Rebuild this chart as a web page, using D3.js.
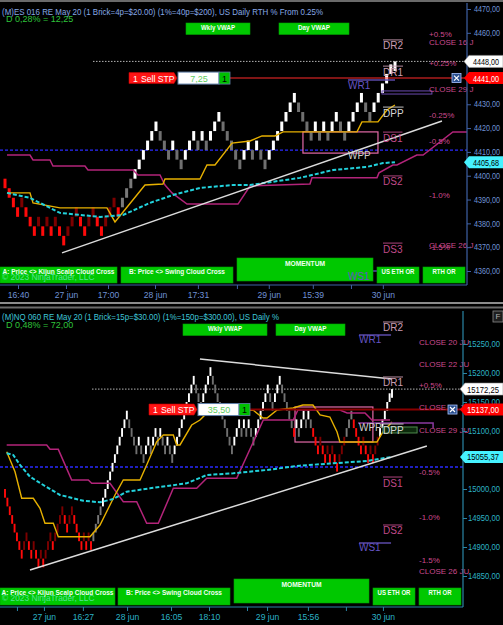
<!DOCTYPE html>
<html>
<head>
<meta charset="utf-8">
<script src="https://cdn.jsdelivr.net/npm/d3@7/dist/d3.min.js"></script>
<style>
html,body{margin:0;padding:0;background:#000;}
svg{display:block;}
text{font-family:'Liberation Sans',Arial,Helvetica,sans-serif;}
</style>
</head>
<body>
<svg id="chart" width="503" height="625"></svg>
<script>
// ===================== DATA =====================
// ---- Top panel: (M)ES ----
const esTitle = "(M)ES 016 RE May 20 (1 Brick=4p=$20.00) (1%=40p=$200), US Daily RTH % From 0.25%";
const esSub = "D 0,28% = 12,25";
const esBrickSize = 4;
const esCloses = [
 4394.75, 4390.75, 4386.75, 4382.75,
 4390.75, 4382.75, 4378.75, 4374.75,
 4382.75, 4374.75, 4382.75, 4374.75,
 4382.75, 4374.75, 4370.75,
 4378.75, 4382.75, 4386.75,
 4378.75, 4374.75,
 4382.75, 4386.75,
 4378.75, 4374.75,
 4382.75, 4386.75, 4390.75,
 4382.75,
 4390.75, 4394.75, 4398.75, 4402.75, 4406.75, 4410.75, 4414.75, 4418.75, 4422.75,
 4414.75, 4410.75, 4406.75,
 4414.75,
 4406.75, 4402.75,
 4410.75, 4414.75, 4418.75,
 4410.75,
 4418.75,
 4410.75,
 4418.75, 4422.75, 4426.75,
 4418.75, 4414.75, 4410.75, 4406.75, 4402.75,
 4410.75, 4414.75,
 4406.75,
 4414.75,
 4406.75, 4402.75,
 4410.75, 4414.75, 4418.75, 4422.75, 4426.75, 4430.75, 4434.75,
 4426.75, 4422.75, 4418.75, 4414.75,
 4422.75,
 4414.75,
 4422.75,
 4414.75,
 4422.75, 4426.75,
 4418.75, 4414.75,
 4422.75, 4426.75, 4430.75, 4434.75,
 4426.75, 4422.75,
 4430.75, 4434.75, 4438.75, 4442.75, 4446.75, 4448
];
const esRegimes = [[0, "down"], [28, "neutral"], [31, "up"]];
const esPriceTicks = [4360, 4370, 4380, 4390, 4400, 4410, 4420, 4430, 4440, 4450, 4460, 4470];
const esTimeTickCols = [3.1, 14.54, 24.56, 35.77, 46.0, 55.3, 62.9, 73.4, 82.5, 90.1];
const esTimeTickLabels = ["16:40", "27 jun", "17:00", "28 jun", "17:31", "", "29 jun", "15:39", "", "30 jun"];
const esMagenta = [[0.48,4408.7],[5.96,4408.7],[6.68,4406.6],[10.73,4406.6],[11.44,4404.1],[19.07,4404.1],[19.79,4402.4],[30.52,4402.4],[31.71,4400.3],[36.96,4400.3],[38.15,4396.1],[39.82,4392.8],[43.4,4388.1],[55.56,4388.1],[58.42,4395.7],[72.72,4396.5],[73.2,4399.1],[88.7,4399.1],[89.18,4401.2],[92.5,4404.5],[93.47,4404.5],[98.2,4408.7],[99.7,4408.7],[106.8,4418.4],[110.2,4418.4]];
const esYellow = [[0.48,4392.8],[5.96,4392.8],[6.68,4388.6],[13.11,4386.5],[24.32,4386.5],[26.23,4380.6],[33.38,4396.1],[37.67,4396.5],[38.15,4398.6],[46.5,4398.6],[48.16,4404.5],[50.07,4404.5],[54.13,4413.7],[58.42,4414.6],[61.28,4416.7],[64.38,4416.7],[66.29,4418.4],[83.93,4418.4],[85.12,4422.6],[88.94,4422.6],[91.08,4427.6],[92.99,4429.7]];
const esCyan = [[0.48,4392.8],[5.96,4390.7],[13.11,4384.4],[22.65,4382.7],[28.14,4383.5],[34.57,4388.6],[40.06,4391.9],[46.5,4394.9],[54.36,4396.1],[58.42,4396.1],[70.34,4399.1],[78.21,4402.4],[86.31,4403.7],[90.13,4405.3],[92.99,4405.68]];
const esTrendLines = [[[13.59,4367.6],[104.2,4423.0]]];
const esBlueLevel = 4410.75;
const esPriceTags = [4448.00, 4441.00, 4405.68];
const esOrder = {qty: 1, name: "Sell STP", price: 4441.00, offset: 7.25};
const esPinkBox = [71.05, 88.94, 4409.5, 4418.4];
const esPurpleBox = [89.9, 101.8, 4434.3, 4435.6];
const esWeeklyLines = [[81.8, 93.0, 4440.2], [81.5, 88.7, 4360.0]];
const esPivots = [["DR2",4454.5],["DR1",4443.5],["DPP",4426.3],["DS1",4415.8],["DS2",4397.4],["DS3",4369.2]];
const esWeekly = [["WR1",4437.7],["WPP",4408.7],["WS1",4357.5]];
const esPercents = [["+0.5%",4459.1],["CLOSE 16 J",4456.1],["+0.25%",4447.3],["CLOSE 29 J",4436.4],["-0.25%",4425.1],["-0.5%",4414.2],["-1.0%",4391.9],["CLOSE 26 J",4370.9],["-1.5%",4369.7]];

// ---- Bottom panel: (M)NQ ----
const nqTitle = "(M)NQ 060 RE May 20 (1 Brick=15p=$30.00) (1%=150p=$300.00), US Daily %";
const nqSub = "D 0,48% = 72,00";
const nqBrickSize = 15;
const nqCloses = [
 14985,14970,14955,14940,14925,14910,14895,14880,14910,14925,
 14895,14880,14910,14880,14865,14895,14865,14895,14910,14925,
 14895,14925,14940,14955,14970,14940,14925,14955,14970,14940,
 14925,14910,14895,14925,14895,14925,14895,14925,14940,14955,
 14970,14985,15000,15015,15030,15045,15060,15075,15090,15105,
 15120,15135,15105,15090,15075,15060,15090,15060,15045,15075,
 15090,15060,15090,15105,15075,15105,15075,15060,15090,15060,
 15045,15075,15090,15105,15120,15135,15150,15165,15180,15195,
 15165,15150,15135,15165,15180,15195,15210,15180,15165,15150,
 15135,15120,15105,15090,15075,15060,15090,15105,15120,15090,
 15120,15090,15120,15090,15075,15105,15120,15135,15150,15165,
 15180,15150,15135,15165,15180,15195,15165,15150,15135,15120,
 15105,15090,15120,15090,15120,15135,15105,15135,15105,15090,
 15075,15060,15090,15060,15045,15075,15045,15075,15045,15030,
 15060,15075,15090,15105,15120,15135,15105,15090,15075,15060,
 15090,15060,15045,15075,15045,15075,15090,15105,15120,15135,
 15150,15165,15172.25
];
const nqRegimes = [[0,"down"],[37,"neutral"],[41,"up"],[121,"down"],[122,"up"],[129,"down"],[143,"neutral"],[146,"down"],[157,"up"]];
const nqPriceTicks = [14850, 14900, 14950, 15000, 15050, 15100, 15150, 15200, 15250];
const nqTimeTickCols = [5.0, 16.3, 32.6, 51.1, 69.5, 85.4, 101.3, 109.7, 126.8, 142.7, 158.2];
const nqTimeTickLabels = ["", "27 jun", "16:27", "28 jun", "16:05", "18:10", "", "29 jun", "15:56", "", "30 jun"];
const nqMagenta = [[0.71,15075.9],[17.45,15075.9],[18.84,15068.4],[22.31,15068.4],[27.92,15015.5],[34.87,15015.5],[36.29,15009.8],[43.95,15009.8],[49.52,14978.1],[55.13,14978.1],[59.31,14940.9],[64.17,14940.9],[70.45,15001.2],[80.24,15001.2],[84.43,15018.4],[96.99,15018.4],[108.12,15119],[120.68,15119],[122.6,15136.2],[140.2,15136.2],[143.2,15131],[150.7,15131],[153.6,15119],[161.2,15119]];
const nqYellow = [[0.71,15064.3],[4.19,15029.8],[6.99,14984],[11.85,14984],[14.65,14966.7],[16.74,14940.9],[20.22,14940.9],[22.31,14917.8],[35.58,14917.8],[39.77,14937.9],[46.04,14989.7],[49.52,15015.5],[56.51,15015.5],[59.31,15041.4],[63.5,15081.6],[66.26,15093.1],[70.45,15093.1],[71.87,15075.9],[73.25,15075.9],[78.15,15110.3],[81.62,15119],[85.1,15133.3],[103.8,15136.2],[108,15122.4],[109.7,15122.4],[113.9,15136.2],[120.6,15139.7],[124.7,15144.8],[128.9,15144.8],[131.9,15127.6],[136.0,15124.1],[139,15098.3],[140.2,15081],[155.7,15081],[158.2,15098.3],[162,15115.5]];
const nqCyan = [[0.71,15061.6],[3.47,15058.6],[6.28,15041.4],[10.46,15021.2],[16.03,15006.9],[23.02,14989.7],[32.78,14979.8],[39.77,14977.1],[45.33,14982.8],[50.94,14995.3],[60.69,15001.2],[76.06,15009.8],[84.43,15024.1],[95.56,15027.1],[109.54,15032.8],[123.48,15040.2],[137.42,15044.3],[151.4,15048.3],[162,15055.37]];
const nqTrendLines = [[[10.46,14860.3],[176.6,15074.1]], [[81.6,15224.1],[162,15189.7]]];
const nqBlueLevel = 15038;
const nqPriceTags = [15172.25, 15137.00, 15055.37];
const nqOrder = {qty: 1, name: "Sell STP", price: 15137.00, offset: 35.50};
const nqPinkBox = [121.4, 154.0, 15081, 15141.4];
const nqPurpleLine = [[147.8,15113.8],[179.2,15113.8],[179.2,15105.2]];
const nqGreenBox = [158.2, 172.5, 15096.6, 15106.9];
const nqWeeklyLines = [[148.2, 161.6, 15265.5], [148.2, 161.6, 14906.9]];
const nqPivots = [["DR2",15277.6],["DR1",15182.8],["DPP",15101.7],["DS1",15010.3],["DS2",14927.6]];
const nqWeekly = [["WR1",15256.9],["WPP",15105.2],["WS1",14898.3]];
const nqPercents = [["CLOSE 20 JU",15253.4],["CLOSE 22 JU",15213.8],["+0.5%",15179.3],["CLOSE 27 JU",15139.7],["CLOSE 29 JU",15101.7],["-0.5%",15027.6],["-1.0%",14951.7],["-1.5%",14875.9],["CLOSE 26 JU",14858.6]];

const buttonTexts = ["Wkly VWAP", "Day VWAP", "A: Price <> Kijun Scalp Cloud Cross", "B: Price <> Swing Cloud Cross", "MOMENTUM", "US ETH OR", "RTH OR"];
const copyright = "\u00a9 2023 NinjaTrader, LLC";

// ===================== RENDER =====================
const svg = d3.select('#chart');
svg.append('rect').attr('width', 503).attr('height', 625).attr('fill', '#000');
svg.append('rect').attr('x', 0).attr('y', 0).attr('width', 503).attr('height', 2).attr('fill', '#6a6a6a');
svg.append('rect').attr('x', 0).attr('y', 302).attr('width', 503).attr('height', 2).attr('fill', '#8c8c8c');
svg.append('rect').attr('x', 0).attr('y', 306.5).attr('width', 503).attr('height', 2).attr('fill', '#6a6a6a');

const fmtPrice = v => v.toFixed(2).replace('.', ',');

function regimeAt(regs, i) {
  let r = regs[0][1];
  for (const [s, name] of regs) if (i >= s) r = name;
  return r;
}
function brickColor(b) {
  if (b.reg === 'down') return b.up ? '#7c0000' : '#ff0a0a';
  if (b.reg === 'up') return b.up ? '#ffffff' : '#707070';
  return '#7a7a7a';
}

function addText(g, x, y, s, o) {
  const t = g.append('text').attr('x', x).attr('y', y).text(s)
    .attr('font-size', o.size || 9).attr('fill', o.fill || '#fff')
    .attr('dominant-baseline', 'central')
    .attr('text-anchor', o.anchor || 'start');
  if (o.bold) t.attr('font-weight', 'bold');
  if (o.len) t.attr('textLength', o.len).attr('lengthAdjust', 'spacingAndGlyphs');
  if (o.opacity) t.attr('opacity', o.opacity);
  return t;
}

function button(g, x0, x1, y0, y1, label, ty, len) {
  g.append('rect').attr('x', x0).attr('y', y0).attr('width', x1 - x0).attr('height', y1 - y0)
    .attr('fill', '#00c800').attr('stroke', '#00a000').attr('stroke-width', 0.6);
  addText(g, (x0 + x1) / 2, ty, label, {size: 7, fill: '#f2fff2', bold: true, anchor: 'middle', len: len});
}

function drawPanel(P) {
  const n = P.closes.length;
  const x = d3.scaleLinear().domain([0, n - 1]).range([P.x0, P.x1]);
  const y = d3.scaleLinear().domain(P.yDomain).range(P.yRange);
  const root = svg.append('g');
  const cid = 'clip-' + P.id;
  root.append('clipPath').attr('id', cid).append('rect')
    .attr('x', 0).attr('y', P.top).attr('width', P.axisX).attr('height', P.bottom - P.top);
  const plot = root.append('g').attr('clip-path', `url(#${cid})`);

  // level lines
  plot.append('line').attr('x1', 0).attr('x2', P.axisX)
    .attr('y1', y(P.blueLevel)).attr('y2', y(P.blueLevel))
    .attr('stroke', '#2a2aff').attr('stroke-width', 1.4).attr('stroke-dasharray', '3,2');
  plot.append('line').attr('x1', P.dotX).attr('x2', P.axisX)
    .attr('y1', y(P.tags[0])).attr('y2', y(P.tags[0]))
    .attr('stroke', '#b4b4b4').attr('stroke-width', 1).attr('stroke-dasharray', '1.5,1.5');

  // boxes
  const pb = P.pinkBox;
  plot.append('rect').attr('x', x(pb[0])).attr('width', x(pb[1]) - x(pb[0]))
    .attr('y', y(pb[3])).attr('height', y(pb[2]) - y(pb[3]))
    .attr('fill', 'none').attr('stroke', '#e46aa8').attr('stroke-width', 1.2);

  // bricks
  let prev = null;
  const bricks = P.closes.map((c, i) => {
    const up = prev === null ? false : c > prev;
    prev = c;
    return {i, up, lo: up ? c - P.brick : c, hi: up ? c : c + P.brick, reg: regimeAt(P.regimes, i)};
  });
  plot.selectAll('rect.brick').data(bricks).join('rect').attr('class', 'brick')
    .attr('x', d => x(d.i) - P.bw / 2).attr('width', P.bw)
    .attr('y', d => y(d.hi)).attr('height', d => y(d.lo) - y(d.hi))
    .attr('fill', brickColor);

  const line = d3.line().x(d => x(d[0])).y(d => y(d[1]));
  plot.append('path').datum(P.magenta).attr('d', line).attr('fill', 'none')
    .attr('stroke', '#b3247a').attr('stroke-width', 1.5);
  plot.append('path').datum(P.yellow).attr('d', line).attr('fill', 'none')
    .attr('stroke', '#e6b000').attr('stroke-width', 1.4);
  plot.append('path').datum(P.cyan).attr('d', line).attr('fill', 'none')
    .attr('stroke', '#22d2dc').attr('stroke-width', 2).attr('stroke-dasharray', '4,2');
  P.trends.forEach(t => {
    plot.append('path').datum(t).attr('d', line).attr('fill', 'none')
      .attr('stroke', '#dcdcdc').attr('stroke-width', 1.5);
  });

  // weekly lines (purple)
  P.weeklyLines.forEach(w => {
    plot.append('line').attr('x1', x(w[0])).attr('x2', x(w[1])).attr('y1', y(w[2])).attr('y2', y(w[2]))
      .attr('stroke', '#5b4aa8').attr('stroke-width', 1.5);
  });
  if (P.purpleBox) {
    const b = P.purpleBox;
    plot.append('rect').attr('x', x(b[0])).attr('width', x(b[1]) - x(b[0]))
      .attr('y', y(b[3])).attr('height', y(b[2]) - y(b[3]))
      .attr('fill', 'none').attr('stroke', '#6a4ab0').attr('stroke-width', 1);
  }
  if (P.purpleLine) {
    plot.append('path').datum(P.purpleLine).attr('d', line).attr('fill', 'none')
      .attr('stroke', '#8a3aa0').attr('stroke-width', 1.5);
  }
  if (P.greenBox) {
    const b = P.greenBox;
    plot.append('rect').attr('x', x(b[0])).attr('width', x(b[1]) - x(b[0]))
      .attr('y', y(b[3])).attr('height', y(b[2]) - y(b[3]))
      .attr('fill', '#0c2a0c').attr('stroke', '#4e8a4e').attr('stroke-width', 1);
  }

  // order line
  const oy = y(P.order.price);
  plot.append('line').attr('x1', P.orderX[3]).attr('x2', P.axisX).attr('y1', oy).attr('y2', oy)
    .attr('stroke', P.orderLineColor).attr('stroke-width', P.orderLineW);

  // pivot labels
  const lab = root.append('g');
  P.pivots.forEach(([s, v]) => {
    const col = s === 'DPP' ? '#d6d6d6' : (s.startsWith('DR') ? '#c99cb2' : '#c04a8a');
    const t = addText(lab, P.pivotX, y(v), s, {size: 10, fill: col});
    const w = t.node().getComputedTextLength();
    lab.append('line').attr('x1', P.pivotX).attr('x2', P.pivotX + w)
      .attr('y1', y(v) - 6).attr('y2', y(v) - 6).attr('stroke', col).attr('stroke-width', 0.9);
  });
  P.percents.forEach(([s, v]) => addText(lab, P.pctX, y(v), s, {size: 8, fill: '#cc4a8e'}));

  // titles
  addText(root, 2, P.titleY, P.title, {size: 9.3, fill: P.titleColor, len: P.titleLen});
  addText(root, 6, P.subY, P.sub, {size: 9, fill: '#2ec43a'});

  // VWAP buttons
  button(root, P.vw[0], P.vw[1], P.vw[4], P.vw[5], buttonTexts[0], (P.vw[4] + P.vw[5]) / 2 - 1, 34);
  button(root, P.vw[2], P.vw[3], P.vw[4], P.vw[5], buttonTexts[1], (P.vw[4] + P.vw[5]) / 2 - 1, 32);

  // axes
  const ax = root.append('g');
  ax.append('line').attr('x1', P.axisX).attr('x2', P.axisX).attr('y1', P.top).attr('y2', P.bottom)
    .attr('stroke', P.axisColor).attr('stroke-width', 1.2);
  ax.append('line').attr('x1', 0).attr('x2', P.axisX).attr('y1', P.bottom).attr('y2', P.bottom)
    .attr('stroke', P.axisColor).attr('stroke-width', 1.2);
  // price labels hidden behind the opaque price tags are not drawn
  const visibleTicks = P.priceTicks.filter(v => P.tags.every(t => Math.abs(y(v) - y(t)) > 7));
  const ya = ax.append('g').attr('transform', `translate(${P.axisX},0)`)
    .call(d3.axisRight(y).tickValues(P.priceTicks).tickSize(4).tickPadding(P.tickPad)
      .tickFormat(v => visibleTicks.includes(v) ? fmtPrice(v) : ''));
  ya.select('.domain').remove();
  ya.selectAll('line').attr('stroke', P.axisColor);
  ya.selectAll('text').attr('fill', P.labelColor).attr('font-size', 8.4)
    .attr('font-family', "'Liberation Sans',Arial,sans-serif")
    .filter(v => visibleTicks.includes(v))
    .attr('textLength', P.labelLen).attr('lengthAdjust', 'spacingAndGlyphs');
  const xa = ax.append('g').attr('transform', `translate(0,${P.bottom})`)
    .call(d3.axisBottom(x).tickValues(P.timeCols).tickSize(4).tickFormat((d, i) => P.timeLabels[i]));
  xa.select('.domain').remove();
  xa.selectAll('line').attr('stroke', P.axisColor);
  xa.selectAll('text').attr('fill', P.labelColor).attr('font-size', 8.6)
    .attr('font-family', "'Liberation Sans',Arial,sans-serif");

  // price tags
  const tagFill = ['#ffffff', '#ff0000', '#46f2ff'];
  const tagText = ['#000', '#fff', '#000'];
  P.tags.forEach((v, k) => {
    const ty = y(v);
    const x0 = P.axisX - 3;
    root.append('path').attr('d', `M${x0},${ty} L${x0 + 5},${ty - 6} H503 V${ty + 6} H${x0 + 5} Z`)
      .attr('fill', tagFill[k]).attr('stroke', k === 0 ? '#9a9a9a' : 'none').attr('stroke-width', 0.6);
    addText(root, P.axisX + P.tickPad + 3, ty + 0.5, fmtPrice(v), {size: 8.4, fill: tagText[k], len: P.labelLen});
  });

  // X cancel icon
  const ix = P.iconX;
  const ig = root.append('g');
  ig.append('rect').attr('x', ix).attr('y', oy - 4.5).attr('width', 9).attr('height', 9)
    .attr('fill', '#2a4f8e').attr('stroke', '#a8c4ff').attr('stroke-width', 0.8);
  ig.append('path').attr('d', `M${ix + 2},${oy - 2.5} L${ix + 7},${oy + 2.5} M${ix + 7},${oy - 2.5} L${ix + 2},${oy + 2.5}`)
    .attr('stroke', '#fff').attr('stroke-width', 1.2);

  // order label
  const ox = P.orderX;
  const og = root.append('g');
  og.append('path').attr('d', `M${ox[0]},${oy - 5.5} H${ox[1] - 3} L${ox[1]},${oy} L${ox[1] - 3},${oy + 5.5} H${ox[0]} Z`)
    .attr('fill', '#ff1414').attr('stroke', '#c80000').attr('stroke-width', 0.6);
  addText(og, ox[0] + 4, oy + 0.5, String(P.order.qty), {size: 8.6, fill: '#fff'});
  addText(og, ox[0] + 12, oy + 0.5, P.order.name, {size: 8.6, fill: '#fff'});
  og.append('rect').attr('x', ox[1] + 1).attr('y', oy - 6).attr('width', ox[2] - ox[1] - 1).attr('height', 12)
    .attr('fill', '#fff').attr('stroke', '#5f7fa8').attr('stroke-width', 1);
  addText(og, (ox[1] + ox[2]) / 2 + 1, oy + 0.5, fmtPrice(P.order.offset), {size: 9, fill: '#5ecb5e', anchor: 'middle'});
  og.append('rect').attr('x', ox[2]).attr('y', oy - 6).attr('width', ox[3] - ox[2]).attr('height', 12)
    .attr('fill', '#00c000').attr('stroke', '#5f7fa8').attr('stroke-width', 0.8);
  addText(og, (ox[2] + ox[3]) / 2, oy + 0.5, String(P.order.qty), {size: 9, fill: '#000', anchor: 'middle'});

  // bottom buttons
  const B = P.btn;
  button(root, B.a[0], B.a[1], B.y0, B.y1, buttonTexts[2], B.y0 + 4, 112);
  addText(root, 2, B.y0 + 10, copyright, {size: 8.4, fill: '#5ee6a6', opacity: 0.9});
  button(root, B.b[0], B.b[1], B.y0, B.y1, buttonTexts[3], B.y0 + 4, 96);
  button(root, B.m[0], B.m[1], B.m[2], B.m[3], buttonTexts[4], B.m[2] + 5, 40);
  button(root, B.u[0], B.u[1], B.y0, B.y1, buttonTexts[5], B.y0 + 4, 33);
  button(root, B.r[0], B.r[1], B.y0, B.y1, buttonTexts[6], B.y0 + 4, 23);

  // weekly labels (on top)
  P.weekly.forEach(([s, v]) => {
    const col = s === 'WPP' ? '#cfcfcf' : '#6454c4';
    addText(root, P.weeklyX, y(v), s, {size: 10, fill: col});
  });
}

drawPanel({
  id: 'es', closes: esCloses, regimes: esRegimes, brick: esBrickSize, bw: 3,
  x0: 5, x1: 395, yDomain: [4360, 4470], yRange: [271, 9],
  top: 3, bottom: 285, axisX: 467, dotX: 93, tickPad: 3, labelLen: 26,
  blueLevel: esBlueLevel, tags: esPriceTags, pinkBox: esPinkBox, purpleBox: esPurpleBox,
  magenta: esMagenta, yellow: esYellow, cyan: esCyan, trends: esTrendLines,
  weeklyLines: esWeeklyLines, order: esOrder, orderX: [129, 177, 219, 230],
  orderLineColor: '#ff2a2a', orderLineW: 1.1, iconX: 452,
  pivots: esPivots, percents: esPercents, weekly: esWeekly,
  pivotX: 383, pctX: 429, weeklyX: 348,
  title: esTitle, sub: esSub, titleY: 11.5, subY: 18.8, titleColor: '#86a8e6', titleLen: 321,
  vw: [186, 250, 279, 349, 23, 34.5],
  priceTicks: esPriceTicks, timeCols: esTimeTickCols, timeLabels: esTimeTickLabels,
  axisColor: '#3f62a6', labelColor: '#6f92d6',
  btn: {y0: 267, y1: 283, a: [0, 117], b: [121, 233], m: [237, 373, 258, 281], u: [377, 419], r: [423, 465]}
});

drawPanel({
  id: 'nq', closes: nqCloses, regimes: nqRegimes, brick: nqBrickSize, bw: 1.9,
  x0: 5, x1: 392, yDomain: [14850, 15250], yRange: [576, 344],
  top: 311, bottom: 607, axisX: 463, dotX: 92, tickPad: 1, labelLen: 32,
  blueLevel: nqBlueLevel, tags: nqPriceTags, pinkBox: nqPinkBox, purpleLine: nqPurpleLine, greenBox: nqGreenBox,
  magenta: nqMagenta, yellow: nqYellow, cyan: nqCyan, trends: nqTrendLines,
  weeklyLines: nqWeeklyLines, order: nqOrder, orderX: [149, 197, 239, 250],
  orderLineColor: '#8a0000', orderLineW: 2, iconX: 448,
  pivots: nqPivots, percents: nqPercents, weekly: nqWeekly,
  pivotX: 383, pctX: 419, weeklyX: 359,
  title: nqTitle, sub: nqSub, titleY: 316.5, subY: 324.5, titleColor: '#3fc6d8', titleLen: 277,
  vw: [183, 267, 276, 345, 324, 335.5],
  priceTicks: nqPriceTicks, timeCols: nqTimeTickCols, timeLabels: nqTimeTickLabels,
  axisColor: '#2a86a6', labelColor: '#2cb2c6',
  btn: {y0: 588, y1: 605, a: [0, 115], b: [118, 230], m: [234, 369, 579, 603], u: [373, 415], r: [419, 461]}
});

// "F" box at top right of the lower panel
const fb = svg.append('g');
fb.append('rect').attr('x', 493).attr('y', 311).attr('width', 10).attr('height', 11)
  .attr('fill', '#1e1e1e').attr('stroke', '#8a8a8a').attr('stroke-width', 0.8);
addText(fb, 498, 316.8, 'F', {size: 8, fill: '#b0b0b0', anchor: 'middle'});
</script>
</body>
</html>
